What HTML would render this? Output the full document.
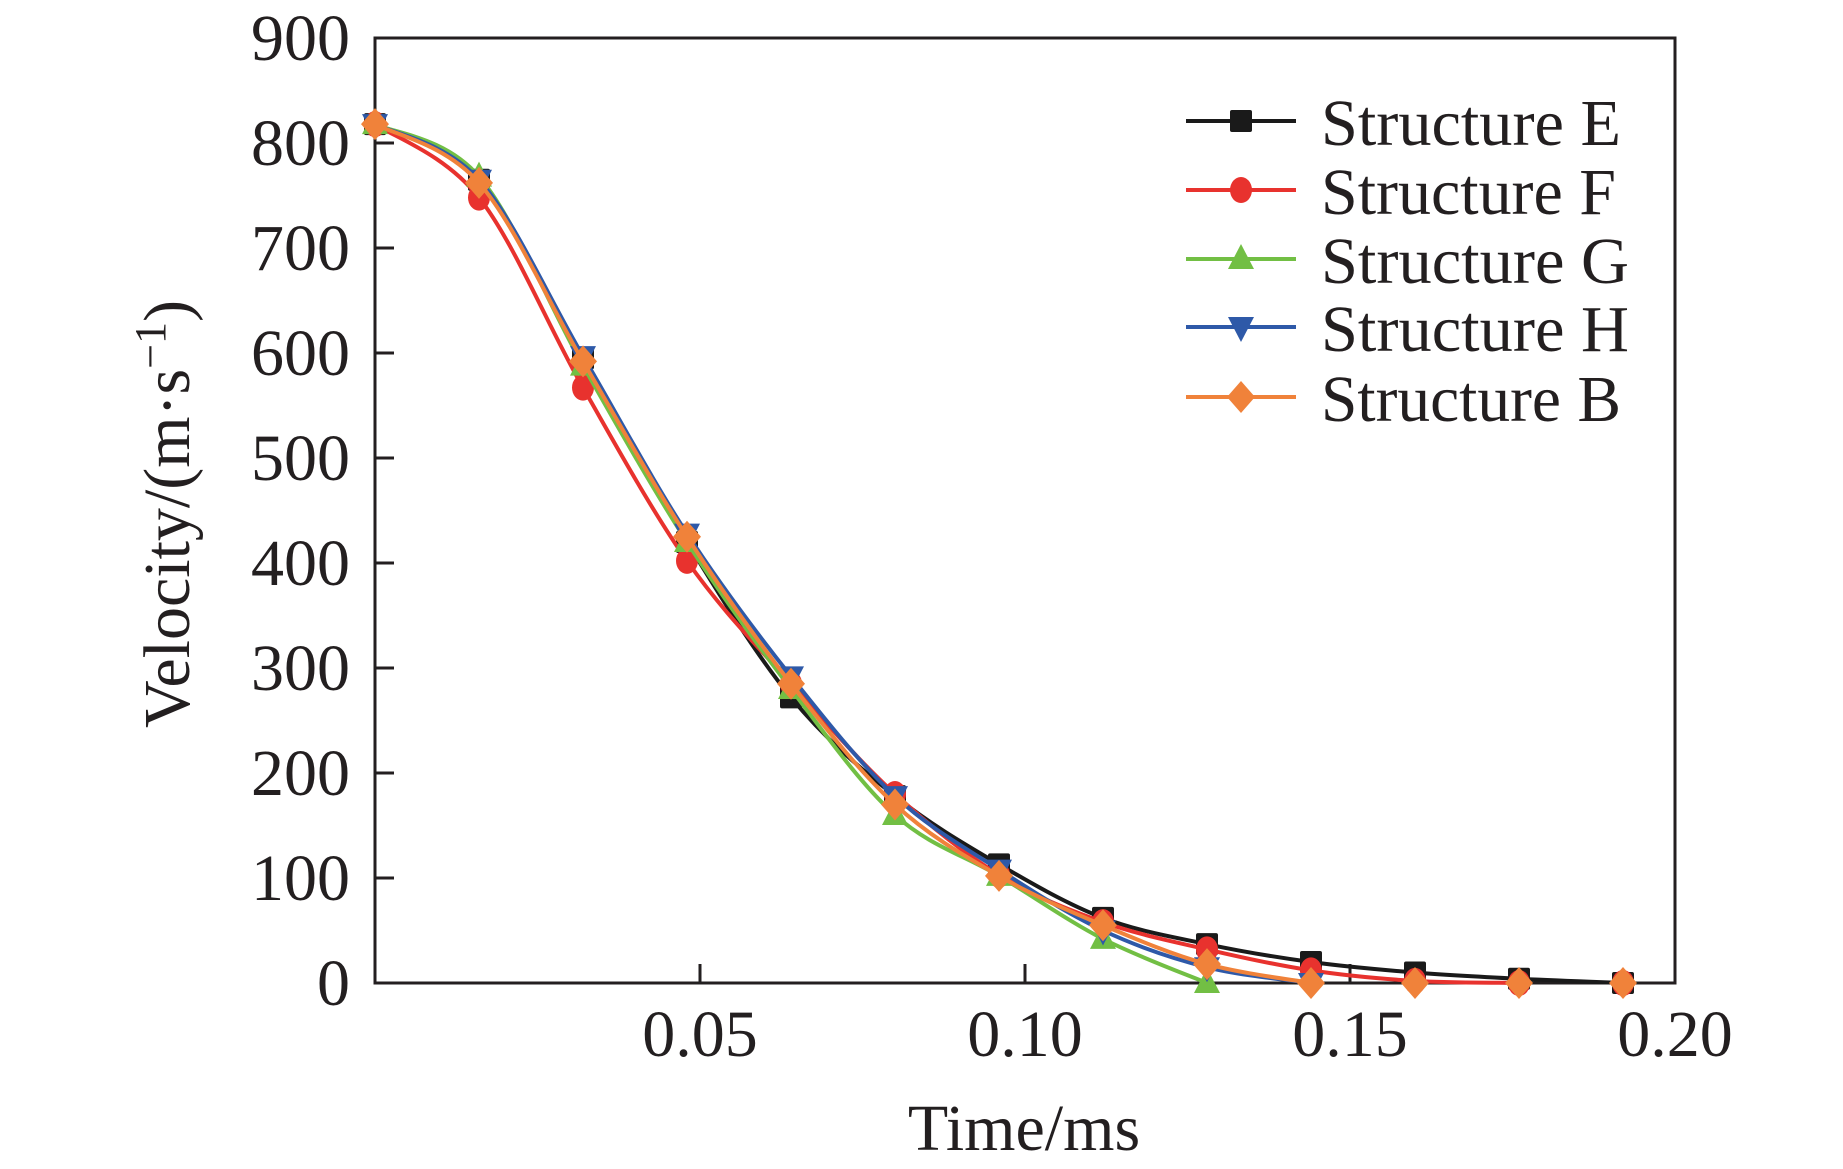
<!DOCTYPE html>
<html><head><meta charset="utf-8"><style>body{margin:0;background:#fff}svg{display:block}text{font-family:"Liberation Serif",serif;fill:#231f20}</style></head>
<body>
<svg id="chart" width="1843" height="1169" viewBox="0 0 1843 1169" xmlns="http://www.w3.org/2000/svg">
<g id="grid"></g>
</svg>
<script>
const times = [0,0.016,0.032,0.048,0.064,0.080,0.096,0.112,0.128,0.144,0.160,0.176,0.192];
const seriesNames = ["Structure E","Structure F","Structure G","Structure H","Structure B"];
const valuesE = [818,765,595,420,272,178,113,62,37,20,10,4,0];
const valuesF = [818,748,567,402,285,180,103,58,32,12,2,0,0];
const valuesG = [818,768,588,420,280,160,102,42,0];
const valuesH = [818,765,597,428,292,178,108,50,15,0];
const valuesB = [818,762,592,425,285,170,102,55,18,0,0,0,0];
const yTicks = [0,100,200,300,400,500,600,700,800,900];
const xTicks = [0.05,0.10,0.15,0.20];
const xTickLabels = ["0.05","0.10","0.15","0.20"];

const NS="http://www.w3.org/2000/svg";
const svg=document.getElementById('chart');
const L=375,R=1675,T=38,B=983;
const xs=t=>L+(t/0.2)*(R-L);
const ys=v=>B-(v/900)*(B-T);
function mk(tag,attrs,parent){const e=document.createElementNS(NS,tag);for(const k in attrs)e.setAttribute(k,attrs[k]);(parent||svg).appendChild(e);return e;}

const frame=mk('rect',{x:L,y:T,width:R-L,height:B-T,fill:'none',stroke:'#231f20','stroke-width':3});


yTicks.forEach(v=>{
  const tk=mk('line',{x1:L,x2:L+19,y1:ys(v),y2:ys(v),stroke:'#231f20','stroke-width':3});
  
  
  const lb=mk('text',{x:350,y:ys(v)+22,'text-anchor':'end','font-size':66});
  lb.textContent=String(v);
  
  
});
xTicks.forEach((t,i)=>{
  const tk=mk('line',{x1:xs(t),x2:xs(t),y1:B,y2:B-19,stroke:'#231f20','stroke-width':3});
  
  
  const lb=mk('text',{x:xs(t),y:1056,'text-anchor':'middle','font-size':66});
  lb.textContent=xTickLabels[i];
  
  
});
const xt=mk('text',{x:1024,y:1150,'text-anchor':'middle','font-size':66});
xt.textContent='Time/ms';


const yt=mk('text',{x:0,y:0,'text-anchor':'middle','font-size':66,transform:'translate(189,514) rotate(-90)'});
yt.innerHTML='Velocity/(m·s<tspan dy="-24" font-size="44">−1</tspan><tspan dy="24">)</tspan>';



const colors=['#1a1a1a','#e8322e','#72bf44','#2e59a8','#f0823a'];
const shapes=['square','circle','up','down','diamond'];
const allVals=[valuesE,valuesF,valuesG,valuesH,valuesB];

function marker(shape,x,y,c,g){
  let e;
  if(shape==='square') e=mk('rect',{x:x-11,y:y-11,width:22,height:22,rx:2,fill:c},g);
  else if(shape==='circle') e=mk('ellipse',{cx:x,cy:y,rx:11,ry:13,fill:c},g);
  else if(shape==='up') e=mk('polygon',{points:`${x},${y-15} ${x+13},${y+10} ${x-13},${y+10}`,fill:c},g);
  else if(shape==='down') e=mk('polygon',{points:`${x-13},${y-10} ${x+13},${y-10} ${x},${y+15}`,fill:c},g);
  else e=mk('polygon',{points:`${x},${y-16} ${x+14},${y} ${x},${y+16} ${x-14},${y}`,fill:c},g);
  return e;
}
function smooth(pts){
  let d=`M${pts[0][0]},${pts[0][1]}`;
  for(let i=0;i<pts.length-1;i++){
    const p0=pts[i-1]||pts[i],p1=pts[i],p2=pts[i+1],p3=pts[i+2]||p2;
    const c1=[p1[0]+(p2[0]-p0[0])/6,p1[1]+(p2[1]-p0[1])/6];
    const c2=[p2[0]-(p3[0]-p1[0])/6,p2[1]-(p3[1]-p1[1])/6];
    d+=` C${c1[0]},${Math.min(B,c1[1])} ${c2[0]},${Math.min(B,c2[1])} ${p2[0]},${p2[1]}`;
  }
  return d;
}
allVals.forEach((vals,si)=>{
  const g=mk('g',{});
  
  
  let pts=vals.map((v,i)=>[xs(times[i]),ys(v)]);
  let end=pts.findIndex((p,i)=>vals[i]===0);
  const linePts=end>=0?pts.slice(0,end+1):pts;
  const p=mk('path',{d:smooth(linePts),fill:'none',stroke:colors[si],'stroke-width':4},g);
  
  
  pts.forEach(pt=>{
    const m=marker(shapes[si],pt[0],pt[1],colors[si],g);
    
    
  });
});
const rowsY=[121,190,259,327,397];
seriesNames.forEach((n,i)=>{
  const g=mk('g',{});
  
  
  mk('line',{x1:1186,x2:1296,y1:rowsY[i],y2:rowsY[i],stroke:colors[i],'stroke-width':4},g);
  marker(shapes[i],1241,rowsY[i],colors[i],g);
  const t=mk('text',{x:1321,y:rowsY[i]+24,'font-size':66,textLength:i===2||i===3?308:(i===1?295:300),lengthAdjust:'spacingAndGlyphs'},g);
  t.textContent=n;
});
</script>
</body></html>
